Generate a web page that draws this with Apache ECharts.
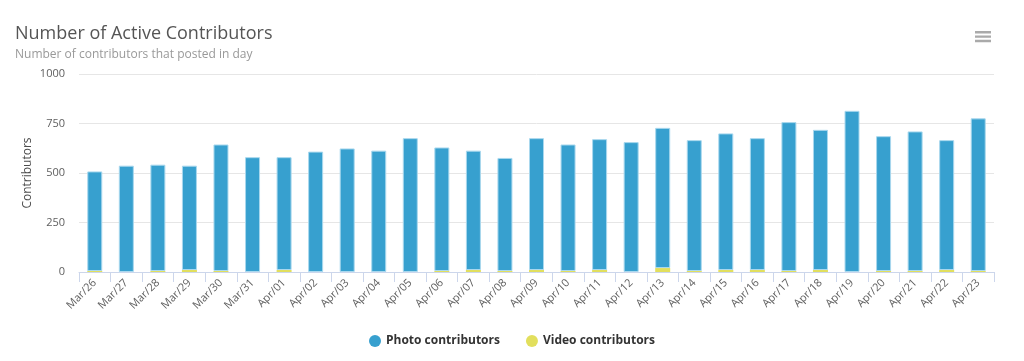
<!DOCTYPE html>
<html><head><meta charset="utf-8">
<script src="https://cdn.jsdelivr.net/npm/echarts@6/dist/echarts.min.js"></script>
<style>html,body{margin:0;padding:0;background:#fff}#c{width:1024px;height:361px}</style>
</head><body><div id="c"></div>
<script>
var categories = ['Mar/26','Mar/27','Mar/28','Mar/29','Mar/30','Mar/31','Apr/01','Apr/02','Apr/03','Apr/04','Apr/05','Apr/06','Apr/07','Apr/08','Apr/09','Apr/10','Apr/11','Apr/12','Apr/13','Apr/14','Apr/15','Apr/16','Apr/17','Apr/18','Apr/19','Apr/20','Apr/21','Apr/22','Apr/23'];
var photoContributors = [503,537,537,527,639,580,570,608,624,613,676,624,603,571,666,639,661,656,708,661,690,666,752,708,814,681,705,656,771];
var videoContributors = [5,0,5,10,5,0,10,0,0,0,0,5,10,5,10,5,10,0,20,5,10,10,5,10,0,5,5,10,5];
var yTicks = [0,250,500,750,1000];

var chart = echarts.init(document.getElementById('c'));
var font = 'Open Sans, Lato, sans-serif';
chart.setOption({
  animation: false,
  textStyle: {fontFamily: font},
  title: {
    text: 'Number of Active Contributors',
    subtext: 'Number of contributors that posted in day',
    left: 10, top: 20, itemGap: 6,
    textStyle: {fontFamily: font, fontSize: 18, fontWeight: 'normal', color: '#555'},
    subtextStyle: {fontFamily: font, fontSize: 12, color: '#999'}
  },
  toolbox: {
    right: 18, top: 16, itemSize: 16,
    iconStyle: {color: '#aaa', borderWidth: 0},
    emphasis: {iconStyle: {color: '#888', borderWidth: 0}},
    feature: {
      myMenu: {show: true, title: 'Menu', icon: 'path://M0,0H16V2.4H0Z M0,4.4H16V6.8H0Z M0,8.8H16V11.2H0Z', onclick: function(){}}
    }
  },
  legend: {
    bottom: 9, left: 'center', icon: 'circle', itemWidth: 12, itemHeight: 12, itemGap: 26,
    data: ['Photo contributors','Video contributors'],
    itemStyle: {borderWidth: 0},
    textStyle: {fontFamily: font, fontSize: 12, fontWeight: 'bold', color: '#333'}
  },
  grid: {left: 79, right: 30, top: 74, bottom: 89, containLabel: false},
  xAxis: {
    type: 'category', data: categories, boundaryGap: true,
    axisLine: {lineStyle: {color: '#ccd6eb'}},
    axisTick: {show: true, length: 10, lineStyle: {color: '#ccd6eb'}, alignWithLabel: false},
    axisLabel: {rotate: 45, color: '#606060', fontSize: 11, margin: 9, interval: 0, fontFamily: font}
  },
  yAxis: {
    type: 'value', min: yTicks[0], max: yTicks[yTicks.length-1], interval: 250,
    name: 'Contributors', nameLocation: 'middle', nameGap: 45, nameRotate: 90, nameMoveOverlap: false,
    nameTextStyle: {color: '#4d4d4d', fontSize: 12, fontFamily: font},
    axisLine: {show: false}, axisTick: {show: false},
    axisLabel: {color: '#606060', fontSize: 11, margin: 14, fontFamily: font, formatter: function(v){ return String(v); }},
    splitLine: {lineStyle: {color: '#e6e6e6'}}
  },
  series: [
    {name: 'Video contributors', type: 'bar', stack: 'total', data: videoContributors, barWidth: 15,
     itemStyle: {color: '#e2df5d', borderWidth: 0}},
    {name: 'Photo contributors', type: 'bar', stack: 'total', data: photoContributors, barWidth: 15,
     itemStyle: {color: '#37a0cf', borderColor: '#a9d8ee', borderWidth: 1}}
  ]
});
</script>
</body></html>
